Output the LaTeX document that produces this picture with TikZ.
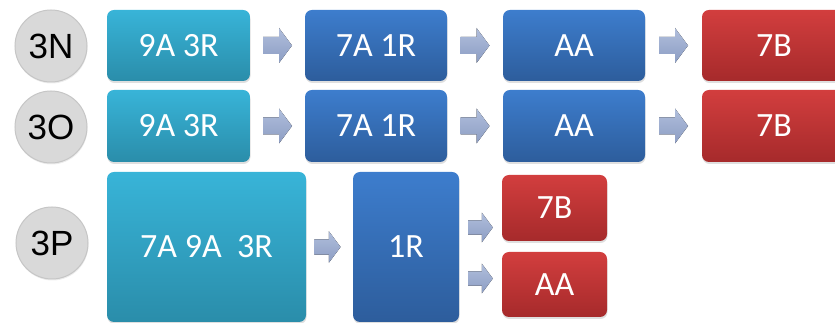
\documentclass[tikz,border=0pt]{standalone}
\usepackage{fontspec}
\setmainfont{Carlito}
\newfontfamily\labelfont{Liberation Sans}
\usetikzlibrary{calc,shadows}

\definecolor{cyanTop}{HTML}{38B4D8}
\definecolor{cyanBot}{HTML}{2A8DAA}
\definecolor{blueTop}{HTML}{3D7DCD}
\definecolor{blueBot}{HTML}{2D5D9C}
\definecolor{redTop}{HTML}{D23E3E}
\definecolor{redBot}{HTML}{A62A2B}
\definecolor{arrTop}{HTML}{B0BEDC}
\definecolor{arrBot}{HTML}{8C9DC3}
\definecolor{circFill}{HTML}{D9D9D9}
\definecolor{circLine}{HTML}{C6C6C6}

\tikzset{
  x=1pt, y=1pt,
  box/.style={rectangle, rounded corners=7pt, draw=none, text=white,
    font=\fontsize{34}{36}\selectfont, inner sep=0pt,
    drop shadow={shadow xshift=0.5pt, shadow yshift=-2pt, opacity=0.25}},
  cyanbox/.style={box, top color=cyanTop, bottom color=cyanBot},
  bluebox/.style={box, top color=blueTop, bottom color=blueBot},
  redbox/.style={box, top color=redTop, bottom color=redBot},
  rowlabel/.style={circle, minimum size=72pt, inner sep=0pt, fill=circFill,
    draw=circLine, line width=1pt, font=\labelfont\fontsize{35}{37}\selectfont,
    drop shadow={shadow xshift=0.5pt, shadow yshift=-1.5pt, opacity=0.15}},
  pics/blockarrow/.style={code={
    \fill[top color=arrTop, bottom color=arrBot]
      (-14.5,-8.5) -- (1.5,-8.5) -- (1.5,-17.5) -- (14.5,0) -- (1.5,17.5)
      -- (1.5,8.5) -- (-14.5,8.5) -- cycle;}}
}

\begin{document}
\begin{tikzpicture}
\useasboundingbox (0,0) rectangle (835,323);
\clip (0,0) rectangle (835,323);

% row labels
\node[rowlabel] (l1) at (51,277) {3N};
\node[rowlabel] (l2) at (51,196) {3O};
\node[rowlabel] (l3) at (52,80) {3P};

% first row
\node[cyanbox, minimum width=143pt, minimum height=71pt] (a1) at (178.5,277.5) {9A 3R};
\node[bluebox, minimum width=142pt, minimum height=71pt] (b1) at (376,277.5) {7A 1R};
\node[bluebox, minimum width=142pt, minimum height=71pt] (c1) at (574,277.5) {AA};
\node[redbox, minimum width=144pt, minimum height=71pt] (d1) at (774,277.5) {7B};

% second row
\node[cyanbox, minimum width=143pt, minimum height=72pt] (a2) at (178.5,197) {9A 3R};
\node[bluebox, minimum width=142pt, minimum height=72pt] (b2) at (376,197) {7A 1R};
\node[bluebox, minimum width=142pt, minimum height=72pt] (c2) at (574,197) {AA};
\node[redbox, minimum width=144pt, minimum height=72pt] (d2) at (774,197) {7B};

% third row
\node[cyanbox, minimum width=199pt, minimum height=150pt] (a3) at (206.5,76) {7A 9A~~3R};
\node[bluebox, minimum width=106pt, minimum height=150pt] (b3) at (406,76) {1R};
\node[redbox, minimum width=105pt, minimum height=66pt] (c3) at (554.5,115) {7B};
\node[redbox, minimum width=105pt, minimum height=65pt] (d3) at (554.5,38.5) {AA};

% block arrows between the boxes
\pic at ($(a1.east)!.5!(b1.west)$) {blockarrow};
\pic at ($(b1.east)!.5!(c1.west)$) {blockarrow};
\pic at ($(c1.east)!.5!(d1.west)$) {blockarrow};
\pic at ($(a2.east)!.5!(b2.west)$) {blockarrow};
\pic at ($(b2.east)!.5!(c2.west)$) {blockarrow};
\pic at ($(c2.east)!.5!(d2.west)$) {blockarrow};
\pic[scale=0.9] at ($(a3.east)!.5!(b3.west)+(-2,0)$) {blockarrow};
\pic[scale=0.85] at ($(b3.east)!.5!(c3.west)$ |- c3.center) {blockarrow};
\pic[scale=0.85] at (480.5,44.5) {blockarrow};
\end{tikzpicture}
\end{document}
